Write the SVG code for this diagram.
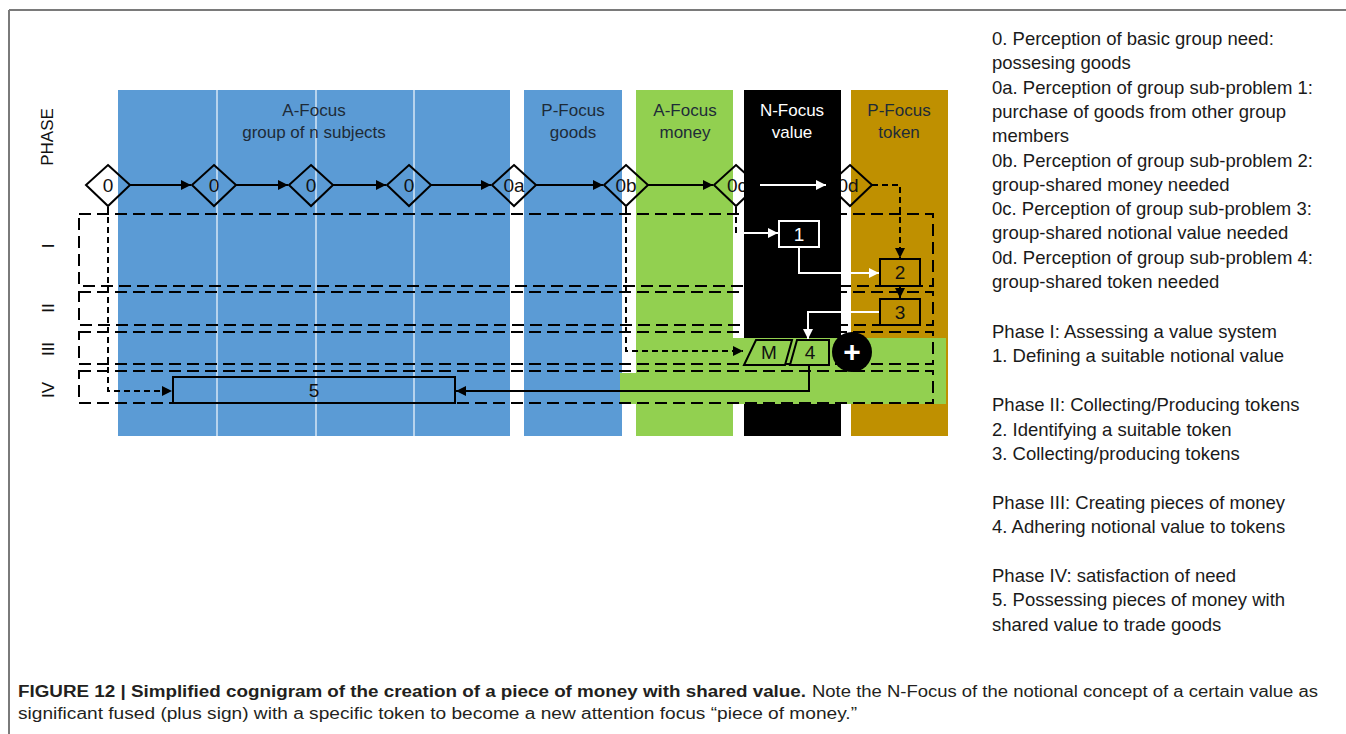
<svg xmlns="http://www.w3.org/2000/svg" width="1346" height="734" viewBox="0 0 1346 734">
<style>
text{font-family:"Liberation Sans",Arial,sans-serif}
.hd{font-size:17px;fill:#1e2b38;text-anchor:middle}
.hdw{font-size:17px;fill:#fff;text-anchor:middle}
.dia{fill:none;stroke:#000;stroke-width:2}
.dl{font-size:19px;fill:#111;text-anchor:middle}
.row{fill:none;stroke:#000;stroke-width:2;stroke-dasharray:12 6}
.ln{fill:none;stroke:#000;stroke-width:2}
.dsh{fill:none;stroke:#000;stroke-width:2;stroke-dasharray:6 4}
.wl{fill:none;stroke:#fff;stroke-width:2}
.note{font-size:18.5px;fill:#1a1a1a}
.lab{font-size:17px;fill:#111;text-anchor:middle}
.cap{font-size:16px;fill:#231f20}
.sep{stroke:#d6e6f5;stroke-width:1.5}
</style>
<defs>
<marker id="ah" viewBox="0 0 10 10" refX="10" refY="5" markerWidth="5" markerHeight="5" orient="auto"><path d="M0,0L10,5L0,10z" fill="#000"/></marker>
<marker id="ahw" viewBox="0 0 10 10" refX="10" refY="5" markerWidth="5" markerHeight="5" orient="auto"><path d="M0,0L10,5L0,10z" fill="#fff"/></marker>
</defs>

<!-- frame -->
<path d="M9,10H1346M9,10V734" fill="none" stroke="#7a7a7a" stroke-width="2"/>

<!-- focus lanes -->
<g id="lanes">
<rect x="118" y="90" width="392" height="346" fill="#5b9bd5"/>
<path class="sep" d="M217,90V436M316,90V436M414,90V436"/>
<rect x="524" y="90" width="98" height="346" fill="#5b9bd5"/>
<rect x="636" y="90" width="97" height="346" fill="#92d050"/>
<rect x="851" y="90" width="97" height="346" fill="#bf9000"/>
<text class="hd" x="314" y="116">A-Focus</text>
<text class="hd" x="314" y="138">group of n subjects</text>
<text class="hd" x="573" y="116">P-Focus</text>
<text class="hd" x="573" y="138">goods</text>
<text class="hd" x="685" y="116">A-Focus</text>
<text class="hd" x="685" y="138">money</text>
<text class="hd" x="899" y="116">P-Focus</text>
<text class="hd" x="899" y="138">token</text>
</g>

<!-- phase labels -->
<g id="phase-labels" class="lab">
<text transform="translate(47,137) rotate(-90)" y="6">PHASE</text>
<text transform="translate(48,246) rotate(-90)" y="6">I</text>
<text transform="translate(48,308) rotate(-90)" y="6">II</text>
<text transform="translate(48,349) rotate(-90)" y="6">III</text>
<text transform="translate(48,390) rotate(-90)" y="6">IV</text>
</g>

<!-- perception diamonds -->
<g id="d0-1"><path class="dia" d="M108,165L130,185L108,206L86,185Z"/><text class="dl" x="108" y="192">0</text></g>
<g id="d0-2"><path class="dia" d="M214,165L236,185L214,206L192,185Z"/><text class="dl" x="214" y="192">0</text></g>
<g id="d0-3"><path class="dia" d="M311,165L333,185L311,206L289,185Z"/><text class="dl" x="311" y="192">0</text></g>
<g id="d0-4"><path class="dia" d="M409,165L431,185L409,206L387,185Z"/><text class="dl" x="409" y="192">0</text></g>
<g id="d0a"><path class="dia" d="M514,165L536,185L514,206L492,185Z"/><text class="dl" x="514" y="192">0a</text></g>
<g id="d0b"><path class="dia" d="M626,165L648,185L626,206L604,185Z"/><text class="dl" x="626" y="192">0b</text></g>
<g id="d0c"><path class="dia" d="M736,165L758,185L736,206L714,185Z"/><text class="dl" x="737" y="192">0c</text></g>
<g id="d0d"><path class="dia" d="M850,165L872,185L850,206L828,185Z"/><text class="dl" x="848" y="192">0d</text></g>

<!-- N-Focus lane lies over the 0c/0d diamonds -->
<g id="lane-value">
<rect x="744" y="90" width="97" height="346" fill="#000"/>
<text class="hdw" x="792" y="116">N-Focus</text>
<text class="hdw" x="792" y="138">value</text>
</g>

<!-- money band -->
<g id="money-band" fill="#92d050">
<rect x="733" y="338" width="213" height="36"/>
<rect x="620" y="373" width="326" height="31"/>
</g>

<!-- phase rows -->
<g id="phase-rows">
<rect class="row" x="79" y="214" width="854" height="72"/>
<rect class="row" x="79" y="292" width="854" height="33"/>
<rect class="row" x="79" y="332" width="854" height="32"/>
<rect class="row" x="79" y="371" width="854" height="32"/>
</g>

<!-- connectors -->
<g id="connectors">
<path class="ln" d="M130,185H191" marker-end="url(#ah)"/>
<path class="ln" d="M236,185H288" marker-end="url(#ah)"/>
<path class="ln" d="M333,185H386" marker-end="url(#ah)"/>
<path class="ln" d="M431,185H491" marker-end="url(#ah)"/>
<path class="ln" d="M536,185H603" marker-end="url(#ah)"/>
<path class="ln" d="M648,185H713" marker-end="url(#ah)"/>
<path class="wl" d="M760,185H826" marker-end="url(#ahw)"/>
<path class="dsh" d="M108,207V391H172" marker-end="url(#ah)"/>
<path class="dsh" d="M626,207V351H743" marker-end="url(#ah)"/>
<path class="dsh" d="M736,207V233"/>
<path class="wl" d="M738,233H778" marker-end="url(#ahw)"/>
<path class="wl" d="M799,247V273H879" marker-end="url(#ahw)"/>
<path class="dsh" d="M872,185H900V258" marker-end="url(#ah)"/>
<path class="ln" d="M900,286V298" marker-end="url(#ah)"/>
<path class="wl" d="M880,312H808V339" marker-end="url(#ahw)"/>
<path class="ln" d="M809,365V391H456" marker-end="url(#ah)"/>
</g>

<!-- process steps -->
<g id="n1"><rect x="779" y="221" width="40" height="26" fill="#000" stroke="#fff" stroke-width="2"/><text class="dl" x="799" y="241" style="fill:#fff">1</text></g>
<g id="n2"><rect x="880" y="259" width="40" height="27" fill="#bf9000" stroke="#000" stroke-width="2"/><text class="dl" x="900" y="279">2</text></g>
<g id="n3"><rect x="880" y="299" width="40" height="26" fill="#bf9000" stroke="#000" stroke-width="2"/><text class="dl" x="900" y="319">3</text></g>
<g id="nM"><path d="M756,340H792L785,365H744Z" fill="#92d050" stroke="#000" stroke-width="2"/><text class="dl" x="769" y="359">M</text></g>
<g id="n4"><path d="M797,340H829V365H790Z" fill="#92d050" stroke="#000" stroke-width="2"/><text class="dl" x="810" y="359">4</text></g>
<g id="fuse"><circle cx="852" cy="352" r="20" fill="#000"/><text x="852" y="362" text-anchor="middle" font-size="30" font-weight="bold" fill="#fff">+</text></g>
<g id="n5"><rect x="173" y="377" width="282" height="26" fill="none" stroke="#000" stroke-width="2"/><text class="dl" x="314" y="397">5</text></g>

<!-- legend -->
<g id="legend" class="note">
<text x="992" y="45">0. Perception of basic group need:</text>
<text x="992" y="69">possesing goods</text>
<text x="992" y="94">0a. Perception of group sub-problem 1:</text>
<text x="992" y="118">purchase of goods from other group</text>
<text x="992" y="142">members</text>
<text x="992" y="167">0b. Perception of group sub-problem 2:</text>
<text x="992" y="191">group-shared money needed</text>
<text x="992" y="215">0c. Perception of group sub-problem 3:</text>
<text x="992" y="239">group-shared notional value needed</text>
<text x="992" y="264">0d. Perception of group sub-problem 4:</text>
<text x="992" y="288">group-shared token needed</text>
<text x="992" y="338">Phase I: Assessing a value system</text>
<text x="992" y="362">1. Defining a suitable notional value</text>
<text x="992" y="411">Phase II: Collecting/Producing tokens</text>
<text x="992" y="436">2. Identifying a suitable token</text>
<text x="992" y="460">3. Collecting/producing tokens</text>
<text x="992" y="509">Phase III: Creating pieces of money</text>
<text x="992" y="533">4. Adhering notional value to tokens</text>
<text x="992" y="582">Phase IV: satisfaction of need</text>
<text x="992" y="606">5. Possessing pieces of money with</text>
<text x="992" y="631">shared value to trade goods</text>
</g>

<!-- caption -->
<g id="caption" class="cap">
<text x="18" y="697" font-weight="bold" textLength="788" lengthAdjust="spacingAndGlyphs">FIGURE 12 | Simplified cognigram of the creation of a piece of money with shared value.</text>
<text x="812" y="697" textLength="506" lengthAdjust="spacingAndGlyphs">Note the N-Focus of the notional concept of a certain value as</text>
<text x="18" y="719" textLength="839" lengthAdjust="spacingAndGlyphs">significant fused (plus sign) with a specific token to become a new attention focus “piece of money.”</text>
</g>
</svg>
